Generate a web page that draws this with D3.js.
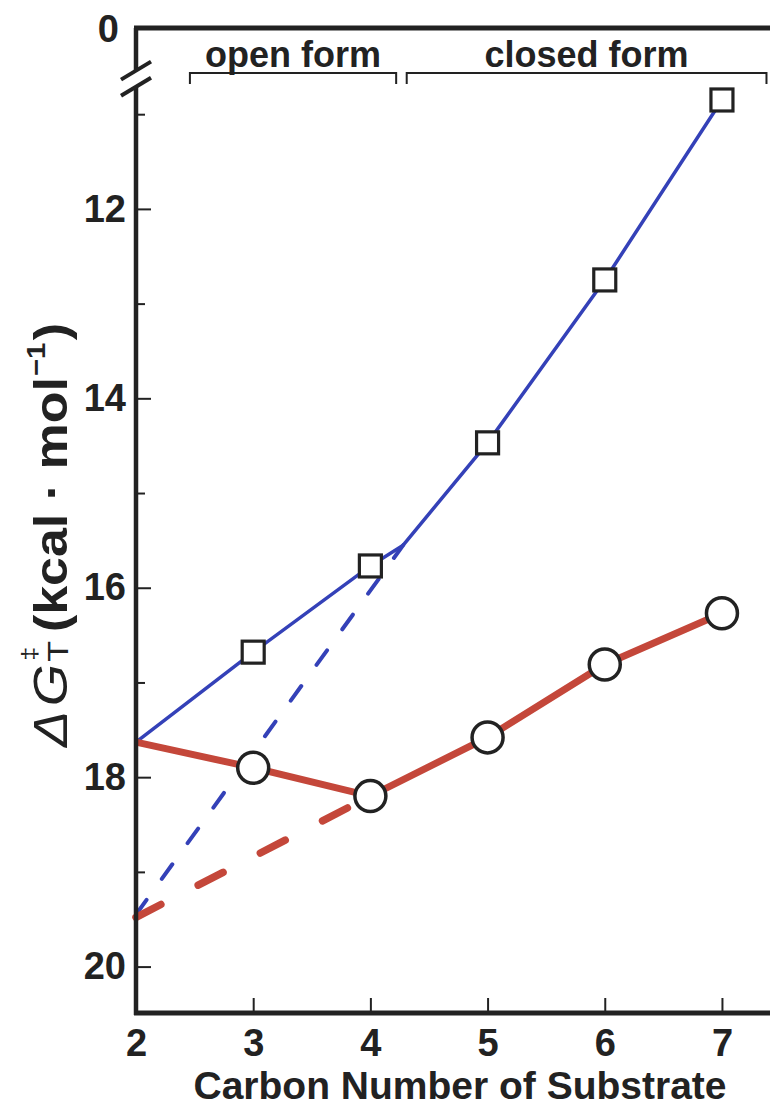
<!DOCTYPE html>
<html>
<head>
<meta charset="utf-8">
<script src="https://cdn.jsdelivr.net/npm/d3@7"></script>
<style>
  html, body { margin: 0; padding: 0; background: #fff; }
  svg { display: block; font-family: "Liberation Sans", Arial, sans-serif; }
</style>
</head>
<body>
<div id="chart"></div>
<script>
// values
const CARBON = [3, 4, 5, 6, 7];
const DG_SQUARE = [16.68, 15.77, 14.47, 12.75, 10.85];
const DG_CIRCLE = [17.90, 18.20, 17.58, 16.81, 16.27];

// fitted lines
const BLUE_SOLID_X = [2, 3, 4, 4.28, 5, 6, 7];
const BLUE_SOLID_Y = [17.63, 16.68, 15.77, 15.55, 14.47, 12.75, 10.85];
const BLUE_DASH_X = [2, 4.28];
const BLUE_DASH_Y = [19.45, 15.55];
const RED_SOLID_X = [2, 3, 4, 5, 6, 7];
const RED_SOLID_Y = [17.63, 17.90, 18.20, 17.58, 16.81, 16.27];
const RED_DASH_X = [2, 4];
const RED_DASH_Y = [19.48, 18.20];

const X_TICKS = [2, 3, 4, 5, 6, 7];
const Y_TICKS = [12, 14, 16, 18, 20];
const Y_MINOR = [11, 13, 15, 17, 19];
const Y_BREAK = [10.54, 10.71];   // axis break, top reads "0"

const FORMS = ["open form", "closed form"];
const FORM_START = [2.46, 4.31];
const FORM_END = [4.22, 7.38];

const BLUE = "#3441b8";
const RED = "#c4473a";
const INK = "#222";

const width = 770, height = 1107;
const margin = {top: 28, right: 0, bottom: 94, left: 136};

const svg = d3.select("#chart").append("svg")
    .attr("width", width)
    .attr("height", height);

const x = d3.scaleLinear()
    .domain([2, 7.41])
    .range([margin.left, width - margin.right]);

const y = d3.scaleLinear()
    .domain([10.09, 20.49])
    .range([margin.top, height - margin.bottom]);

const zip = (xs, ys) => xs.map((v, i) => [v, ys[i]]);
const line = d3.line().x(d => x(d[0])).y(d => y(d[1]));

// dashed extrapolations
svg.append("path")
    .attr("d", line(zip(BLUE_DASH_X, BLUE_DASH_Y)))
    .attr("fill", "none")
    .attr("stroke", BLUE)
    .attr("stroke-width", 4)
    .attr("stroke-linecap", "round")
    .attr("stroke-dasharray", "18 26");

svg.append("path")
    .attr("d", line(zip(RED_DASH_X, RED_DASH_Y)))
    .attr("fill", "none")
    .attr("stroke", RED)
    .attr("stroke-width", 7.5)
    .attr("stroke-linecap", "round")
    .attr("stroke-dasharray", "28 42");

// solid lines
svg.append("path")
    .attr("d", line(zip(BLUE_SOLID_X, BLUE_SOLID_Y)))
    .attr("fill", "none")
    .attr("stroke", BLUE)
    .attr("stroke-width", 3.5);

svg.append("path")
    .attr("d", line(zip(RED_SOLID_X, RED_SOLID_Y)))
    .attr("fill", "none")
    .attr("stroke", RED)
    .attr("stroke-width", 7);

// markers
const sq = 22;
svg.selectAll(".sq")
    .data(zip(CARBON, DG_SQUARE))
    .join("rect")
    .attr("class", "sq")
    .attr("x", d => x(d[0]) - sq / 2)
    .attr("y", d => y(d[1]) - sq / 2)
    .attr("width", sq)
    .attr("height", sq)
    .attr("fill", "#fff")
    .attr("stroke", INK)
    .attr("stroke-width", 3.2);

svg.selectAll(".ci")
    .data(zip(CARBON, DG_CIRCLE))
    .join("circle")
    .attr("class", "ci")
    .attr("cx", d => x(d[0]))
    .attr("cy", d => y(d[1]))
    .attr("r", 15.5)
    .attr("fill", "#fff")
    .attr("stroke", INK)
    .attr("stroke-width", 3.5);

// x axis
const xAxis = svg.append("g")
    .attr("transform", `translate(0,${y.range()[1]})`)
    .call(d3.axisBottom(x).tickValues(X_TICKS).tickFormat(d3.format("d"))
        .tickSize(-15).tickSizeOuter(0).tickPadding(16));
xAxis.select(".domain").remove();
xAxis.selectAll(".tick line").attr("stroke", INK).attr("stroke-width", 2);
xAxis.selectAll(".tick text")
    .attr("fill", INK)
    .attr("font-size", 38)
    .attr("font-weight", "bold");

// y axis, major + minor
const yAxis = svg.append("g")
    .attr("transform", `translate(${x.range()[0]},0)`)
    .call(d3.axisLeft(y).tickValues(Y_TICKS).tickSize(-15).tickSizeOuter(0).tickPadding(10));
yAxis.select(".domain").remove();
yAxis.selectAll(".tick line").attr("stroke", INK).attr("stroke-width", 2);
yAxis.selectAll(".tick text")
    .attr("fill", INK)
    .attr("font-size", 38)
    .attr("font-weight", "bold");

const yMinor = svg.append("g")
    .attr("transform", `translate(${x.range()[0]},0)`)
    .call(d3.axisLeft(y).tickValues(Y_MINOR).tickSize(-9).tickSizeOuter(0).tickFormat(""));
yMinor.select(".domain").remove();
yMinor.selectAll(".tick line").attr("stroke", INK).attr("stroke-width", 2);

// frame: top, bottom, left with break
const x0 = x.range()[0], x1 = x.range()[1];
const yTop = y.range()[0], yBot = y.range()[1];
svg.append("line")
    .attr("x1", x0 - 2).attr("x2", x1).attr("y1", yTop).attr("y2", yTop)
    .attr("stroke", INK).attr("stroke-width", 5);
svg.append("line")
    .attr("x1", x0 - 2).attr("x2", x1).attr("y1", yBot).attr("y2", yBot)
    .attr("stroke", INK).attr("stroke-width", 5);
svg.append("line")
    .attr("x1", x0).attr("x2", x0).attr("y1", yTop).attr("y2", y(Y_BREAK[0]))
    .attr("stroke", INK).attr("stroke-width", 4.5);
svg.append("line")
    .attr("x1", x0).attr("x2", x0).attr("y1", y(Y_BREAK[1])).attr("y2", yBot + 2)
    .attr("stroke", INK).attr("stroke-width", 4.5);
svg.selectAll(".brk")
    .data(Y_BREAK)
    .join("line")
    .attr("class", "brk")
    .attr("x1", x0 - 15).attr("x2", x0 + 15)
    .attr("y1", d => y(d) + 9).attr("y2", d => y(d) - 9)
    .attr("stroke", INK).attr("stroke-width", 4);

svg.append("text")
    .attr("x", x0 - 17)
    .attr("y", yTop)
    .attr("dy", "0.36em")
    .attr("text-anchor", "end")
    .attr("font-size", 38)
    .attr("font-weight", "bold")
    .attr("fill", INK)
    .text("0");

// open / closed form brackets
const bracketY = 73;
const forms = svg.selectAll(".form")
    .data(FORMS.map((name, i) => ({name, a: FORM_START[i], b: FORM_END[i]})))
    .join("g")
    .attr("class", "form");
forms.append("path")
    .attr("d", d => `M${x(d.a)},${bracketY + 11}V${bracketY}H${x(d.b)}V${bracketY + 11}`)
    .attr("fill", "none")
    .attr("stroke", INK)
    .attr("stroke-width", 2);
forms.append("text")
    .attr("x", d => (x(d.a) + x(d.b)) / 2)
    .attr("y", bracketY - 6)
    .attr("text-anchor", "middle")
    .attr("font-size", 36)
    .attr("font-weight", "bold")
    .attr("fill", INK)
    .text(d => d.name);

// axis titles
svg.append("text")
    .attr("x", 460)
    .attr("y", 1099)
    .attr("text-anchor", "middle")
    .attr("font-size", 39)
    .attr("font-weight", "bold")
    .attr("fill", INK)
    .text("Carbon Number of Substrate");

// y title built piece by piece, then fitted to the measured length
const yTitle = svg.append("g");
let cur = 0;
const piece = (txt, opts) => {
    const t = yTitle.append("text")
        .attr("x", cur + (opts.dx || 0))
        .attr("y", opts.y || 0)
        .attr("font-size", opts.size)
        .attr("font-weight", opts.weight || "normal")
        .attr("font-style", opts.style || "normal")
        .attr("fill", INK)
        .text(txt);
    return t.node().getComputedTextLength() + (opts.dx || 0);
};
cur += piece("Δ", {size: 48, style: "italic"});
cur += piece("G", {size: 48, style: "italic", dx: 4});
const wDag = piece("‡", {size: 22, y: -30, dx: 3});
const wT = piece("T", {size: 30, y: 1, dx: 2});
cur += Math.max(wDag, wT);
cur += piece("(kcal", {size: 46, weight: "bold", dx: 8});
cur += piece("·", {size: 46, weight: "bold", dx: 12});
cur += piece("mol", {size: 46, weight: "bold", dx: 12});
cur += piece("−1", {size: 26, weight: "bold", y: -22, dx: 1});
cur += piece(")", {size: 46, weight: "bold", dx: 2});
const titleLen = 424;
yTitle.attr("transform", `translate(67,747) rotate(-90) scale(${titleLen / cur},1)`);
</script>
</body>
</html>
